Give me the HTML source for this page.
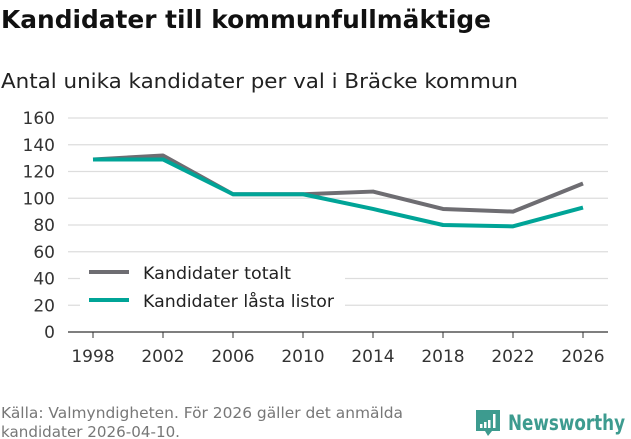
<!DOCTYPE html>
<html><head><meta charset="utf-8"><style>
body{margin:0;background:#fff;width:631px;height:439px;overflow:hidden;font-family:"DejaVu Sans","Liberation Sans",sans-serif;}
</style></head><body>
<svg width="631" height="439" style="position:absolute;left:0;top:0">
<text x="1" y="28" font-size="25" font-weight="bold" fill="#111" textLength="490" lengthAdjust="spacingAndGlyphs">Kandidater till kommunfullmäktige</text>
<text x="1" y="88" font-size="20" fill="#222" textLength="517" lengthAdjust="spacingAndGlyphs">Antal unika kandidater per val i Bräcke kommun</text>
<g id="grid"></g>
<g id="ylab"></g>
<g id="xlab"></g>
<g id="lines"></g>
<rect x="80" y="258" width="265" height="60" fill="#fff"/>
<line x1="89" y1="272" x2="129" y2="272" stroke="#6e6d72" stroke-width="4"/>
<text x="143" y="279" font-size="17" fill="#222" textLength="148" lengthAdjust="spacingAndGlyphs">Kandidater totalt</text>
<line x1="89" y1="300" x2="129" y2="300" stroke="#00a497" stroke-width="4"/>
<text x="143" y="307" font-size="17" fill="#222" textLength="191" lengthAdjust="spacingAndGlyphs">Kandidater låsta listor</text>
<text x="1" y="418" font-size="15" fill="#777" textLength="402" lengthAdjust="spacingAndGlyphs">Källa: Valmyndigheten. För 2026 gäller det anmälda</text>
<text x="1" y="437" font-size="15" fill="#777" textLength="179" lengthAdjust="spacingAndGlyphs">kandidater 2026-04-10.</text>
<g>
<path d="M476 410 h24 v21 h-8 l-4 5 l-3 -5 h-9 z" fill="#3d9b8f"/>
<rect x="480" y="424" width="2.5" height="4" fill="#fff"/><rect x="484" y="422" width="2.5" height="6" fill="#fff"/><rect x="488" y="420" width="2.5" height="8" fill="#fff"/><rect x="493" y="414" width="2.5" height="14" fill="#fff"/>
<text x="508" y="430" font-size="21" font-weight="bold" fill="#3d9b8f" font-family="DejaVu Sans, sans-serif" textLength="117" lengthAdjust="spacingAndGlyphs">Newsworthy</text>
</g>
</svg>
<script>
const years=[1998,2002,2006,2010,2014,2018,2022,2026];
const totalt=[129,132,103,103,105,92,90,111];
const lasta=[129,129,103,103,92,80,79,93];
const yTicks=[0,20,40,60,80,100,120,140,160];
const NS="http://www.w3.org/2000/svg";
const xs=y=>93+(y-1998)/(2026-1998)*490;
const ys=v=>332-v/160*214;
function mk(t,a,p){const e=document.createElementNS(NS,t);for(const k in a)e.setAttribute(k,a[k]);p.appendChild(e);return e;}
const grid=document.getElementById('grid'),yl=document.getElementById('ylab'),xl=document.getElementById('xlab'),ln=document.getElementById('lines');
yTicks.forEach(v=>{
const l=mk('line',{x1:68,x2:608,y1:ys(v),y2:ys(v),stroke:v===0?'#333':'#ddd','stroke-width':1.3},grid);


const t=mk('text',{x:55,y:ys(v)+6,'text-anchor':'end','font-size':17,fill:'#333'},yl);t.textContent=v;


});
years.forEach(y=>{
const k=mk('line',{x1:xs(y),x2:xs(y),y1:332,y2:338,stroke:'#333'},xl);


const t=mk('text',{x:xs(y),y:362,'text-anchor':'middle','font-size':17,fill:'#333'},xl);t.textContent=y;


});
[[totalt,'#6e6d72','line-totalt'],[lasta,'#00a497','line-lasta']].forEach(([d,c,n])=>{
const p=mk('polyline',{points:d.map((v,i)=>xs(years[i])+','+ys(v)).join(' '),fill:'none',stroke:c,'stroke-width':4,'stroke-linejoin':'round'},ln);


});
</script>
</body></html>
